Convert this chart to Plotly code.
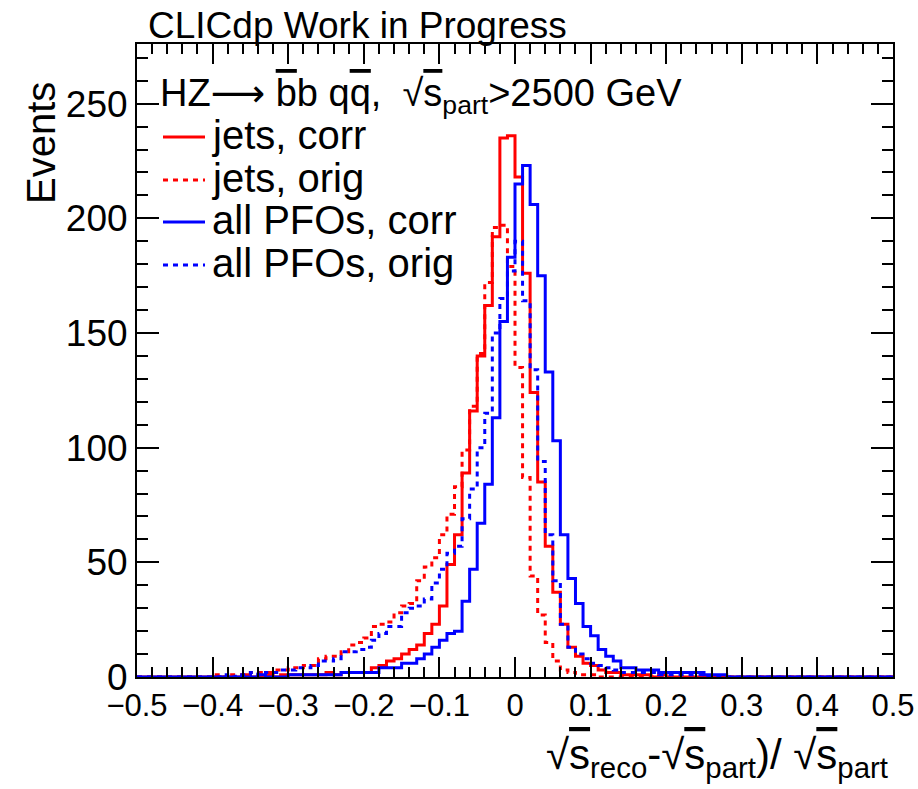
import numpy as np
import plotly.graph_objects as go

# 100 bins of width 0.01 on [-0.5, 0.5]
bin_edges = np.round(np.linspace(-0.5, 0.5, 101), 4)

# event counts per bin, left to right
jets_corr = [
    0, 0, 0, 0, 0, 0, 0, 0, 0, 0,
    0, 0, 0, 0, 1, 0, 0, 1, 0, 1,
    1, 1, 1, 1, 1, 2, 1, 2, 2, 2,
    2, 4, 5, 7, 8, 10, 12, 14, 19, 23,
    31, 49, 62, 89, 116, 140, 162, 192, 235, 236,
    218, 176, 124, 85, 57, 37, 23, 13, 9, 6,
    5, 3, 2, 2, 1, 1, 1, 1, 0, 1,
    0, 0, 0, 0, 0, 0, 0, 0, 0, 0,
    0, 0, 0, 0, 0, 0, 0, 0, 0, 0,
    0, 0, 0, 0, 0, 0, 0, 0, 0, 0,
]
jets_orig = [
    0, 0, 0, 0, 0, 0, 0, 0, 0, 0,
    1, 0, 1, 1, 1, 2, 2, 2, 3, 3,
    4, 4, 5, 5, 8, 9, 9, 11, 14, 15,
    17, 22, 23, 24, 28, 31, 32, 42, 48, 52,
    62, 71, 83, 99, 118, 141, 172, 196, 197, 179,
    135, 87, 44, 27, 15, 7, 3, 2, 1, 1,
    1, 0, 0, 0, 0, 0, 0, 0, 0, 0,
    0, 0, 0, 0, 0, 0, 0, 0, 0, 0,
    0, 0, 0, 0, 0, 0, 0, 0, 0, 0,
    0, 0, 0, 0, 0, 0, 0, 0, 0, 0,
]
pfo_corr = [
    0, 0, 0, 0, 0, 0, 0, 0, 0, 0,
    0, 0, 0, 0, 0, 0, 1, 0, 0, 0,
    1, 1, 1, 1, 1, 1, 1, 2, 2, 2,
    2, 2, 4, 4, 4, 6, 6, 8, 10, 13,
    16, 19, 20, 33, 47, 67, 84, 113, 155, 183,
    215, 223, 206, 175, 133, 103, 62, 43, 32, 22,
    18, 12, 9, 7, 4, 4, 3, 3, 3, 2,
    2, 2, 2, 2, 2, 1, 1, 1, 0, 0,
    0, 0, 0, 0, 0, 0, 0, 0, 0, 0,
    0, 0, 0, 0, 0, 0, 0, 0, 0, 0,
]
pfo_orig = [
    0, 0, 0, 0, 0, 0, 0, 0, 0, 0,
    0, 1, 0, 1, 1, 2, 1, 2, 2, 3,
    3, 4, 4, 5, 7, 7, 8, 11, 11, 12,
    13, 16, 19, 22, 22, 28, 30, 31, 34, 41,
    47, 54, 57, 69, 82, 100, 115, 150, 165, 177,
    190, 164, 134, 94, 62, 42, 23, 13, 10, 8,
    6, 5, 4, 3, 2, 2, 2, 2, 2, 1,
    1, 1, 1, 1, 1, 0, 0, 0, 0, 0,
    0, 0, 0, 0, 0, 0, 0, 0, 0, 0,
    0, 0, 0, 0, 0, 0, 0, 0, 0, 0,
]

legend_labels = ["jets, corr", "jets, orig", "all PFOs, corr", "all PFOs, orig"]
colors = ["#ff0000", "#ff0000", "#0000ff", "#0000ff"]
dashes = ["solid", "5px,5px", "solid", "5px,5px"]
all_counts = [jets_corr, jets_orig, pfo_corr, pfo_orig]

FONT = "Liberation Sans, Arial, sans-serif"
W, H = 918, 789
M = dict(l=137, r=25, t=44, b=112)
PW, PH = W - M["l"] - M["r"], H - M["t"] - M["b"]


def px(x):
    """page pixel column -> paper x"""
    return (x - M["l"]) / PW


def py(y):
    """page pixel row -> paper y"""
    return (H - M["b"] - y) / PH


fig = go.Figure()
for name, counts, color, dash in zip(legend_labels, all_counts, colors, dashes):
    # step outline: each bin drawn flat from its left to right edge
    fig.add_trace(go.Scatter(
        x=bin_edges,
        y=list(counts) + [counts[-1]],
        mode="lines",
        name=name,
        showlegend=False,
        line=dict(shape="hv", color=color, width=3, dash=dash),
    ))

axis_common = dict(
    showline=True, linewidth=2, linecolor="black", mirror="allticks",
    ticks="inside", tickcolor="black", tickwidth=1.5,
    showgrid=False, zeroline=False, automargin=False,
)

fig.update_xaxes(
    range=[-0.5, 0.5], tick0=-0.5, dtick=0.1, ticklen=20,
    minor=dict(dtick=0.02, ticks="inside", ticklen=10, tickcolor="black", tickwidth=1.5, showgrid=False),
    tickfont=dict(family=FONT, size=31, color="black"),
    **axis_common,
)
fig.update_yaxes(
    range=[0, 276], tick0=0, dtick=50, ticklen=22,
    minor=dict(dtick=10, ticks="inside", ticklen=11, tickcolor="black", tickwidth=1.5, showgrid=False),
    tickfont=dict(family=FONT, size=37, color="black"),
    **axis_common,
)

OVER = '<span style="text-decoration:overline">{}</span>'

fig.add_annotation(
    text="CLICdp Work in Progress", xref="paper", yref="paper",
    x=px(146), y=py(25), xanchor="left", yanchor="middle", showarrow=False,
    font=dict(family=FONT, size=37, color="black"),
)
fig.add_annotation(
    text="Events", xref="paper", yref="paper", textangle=-90,
    x=px(41), y=py(143), xanchor="center", yanchor="middle", showarrow=False,
    font=dict(family=FONT, size=40, color="black"),
)
fig.add_annotation(
    text="√" + OVER.format("s") + "<sub>reco</sub>-√" + OVER.format("s")
         + "<sub>part</sub>)/ √" + OVER.format("s") + "<sub>part</sub>",
    xref="paper", yref="paper",
    x=px(890), y=py(757), xanchor="right", yanchor="middle", showarrow=False,
    font=dict(family=FONT, size=42, color="black"),
)

# legend header
fig.add_annotation(
    text="HZ<span style=\"font-family:DejaVu Sans\">⟶</span> " + OVER.format("b") + "b q"
         + OVER.format("q") + ",  √" + OVER.format("s") + "<sub>part</sub>&gt;2500 GeV",
    xref="paper", yref="paper",
    x=px(158), y=py(95), xanchor="left", yanchor="middle", showarrow=False,
    font=dict(family=FONT, size=38, color="black"),
)

# legend entries: line sample + label
row_y = [137, 180, 222, 265]
for label, color, dash, ry in zip(legend_labels, colors, dashes, row_y):
    fig.add_shape(
        type="line", xref="paper", yref="paper",
        x0=px(163), x1=px(205), y0=py(ry), y1=py(ry),
        line=dict(color=color, width=3, dash=dash),
    )
    fig.add_annotation(
        text=label, xref="paper", yref="paper",
        x=px(210), y=py(ry - 2), xanchor="left", yanchor="middle", showarrow=False,
        font=dict(family=FONT, size=40, color="black"),
    )

fig.update_layout(
    width=W, height=H, autosize=False,
    margin=M,
    paper_bgcolor="white", plot_bgcolor="white",
    showlegend=False,
)

fig.write_html("out.html")
